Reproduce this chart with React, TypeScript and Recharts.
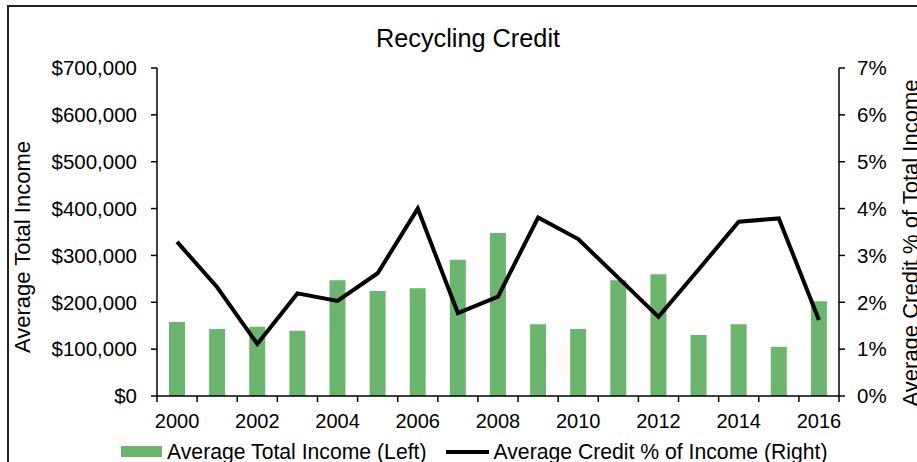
import React from 'react';
import { ComposedChart, Bar, Line, XAxis, YAxis, Legend } from 'recharts';

const years = ['2000', '2001', '2002', '2003', '2004', '2005', '2006', '2007', '2008', '2009', '2010', '2011', '2012', '2013', '2014', '2015', '2016'];
const avgIncome = [158000, 143000, 148000, 139000, 247000, 224000, 230000, 291000, 348000, 153000, 143000, 247000, 260000, 130000, 153000, 105000, 202000];
const creditPct = [3.29, 2.32, 1.11, 2.19, 2.03, 2.62, 4.0, 1.77, 2.12, 3.81, 3.35, 2.52, 1.69, 2.7, 3.72, 3.79, 1.62];
const incomeTicks = [0, 100000, 200000, 300000, 400000, 500000, 600000, 700000];
const pctTicks = [0, 1, 2, 3, 4, 5, 6, 7];

const data = years.map((year, i) => ({ year, income: avgIncome[i], pct: creditPct[i] }));

const FONT = '"Liberation Sans", Arial, sans-serif';
const GREEN = '#6bb56e';

const fmtMoney = (v: number) => '$' + v.toLocaleString('en-US');
const fmtPct = (v: number) => `${v}%`;

// Excel style: tick marks on category boundaries, labels on every other year
const YearTick = (props: any) => {
  const { x, y, payload, index } = props;
  const half = payload?.offset || 20;
  const last = index === years.length - 1;
  return (
    <g>
      <line x1={x - half} y1={y} x2={x - half} y2={y + 6} stroke="#000" strokeWidth={1.5} />
      {last && <line x1={x + half} y1={y} x2={x + half} y2={y + 6} stroke="#000" strokeWidth={1.5} />}
      {index % 2 === 0 && (
        <text x={x} y={y + 32} textAnchor="middle" fill="#000" fontSize={20} fontFamily={FONT}>
          {payload.value}
        </text>
      )}
    </g>
  );
};

const LegendContent = () => (
  <div
    style={{
      display: 'flex',
      alignItems: 'center',
      paddingLeft: 121,
      paddingTop: 9,
      height: 21,
      lineHeight: '24px',
      fontFamily: FONT,
      fontSize: 21.2,
      color: '#000',
      whiteSpace: 'nowrap',
    }}
  >
    <span style={{ display: 'inline-block', width: 41, height: 11, background: GREEN, marginRight: 5 }} />
    <span>Average Total Income (Left)</span>
    <span style={{ display: 'inline-block', width: 43, height: 4, background: '#000', marginLeft: 19, marginRight: 5 }} />
    <span>Average Credit % of Income (Right)</span>
  </div>
);

const labelStyle: React.CSSProperties = {
  position: 'absolute',
  transform: 'translate(-50%, -50%) rotate(-90deg)',
  fontFamily: FONT,
  fontSize: 22,
  lineHeight: 1,
  whiteSpace: 'nowrap',
  color: '#000',
};

export default function App() {
  return (
    <div style={{ position: 'absolute', left: 0, top: 0, width: 917, height: 462, overflow: 'hidden', background: '#fff' }}>
      <div style={{ position: 'absolute', left: 7, top: 5, width: 1000, height: 1000, border: '2px solid #222' }} />
      <div
        style={{
          position: 'absolute',
          left: 468,
          top: 26,
          transform: 'translateX(-50%)',
          fontFamily: FONT,
          fontSize: 25.3,
          lineHeight: 1,
          whiteSpace: 'nowrap',
          color: '#000',
        }}
      >
        Recycling Credit
      </div>
      <div style={{ ...labelStyle, left: 23, top: 247 }}>Average Total Income</div>
      <div style={{ ...labelStyle, left: 911, top: 243 }}>Average Credit % of Total Income</div>
      <ComposedChart width={917} height={462} data={data} margin={{ top: 68, right: 0, bottom: 0, left: 0 }} style={{ position: 'absolute', left: 0, top: 0 }}>
        <XAxis
          dataKey="year"
          interval={0}
          height={36}
          tickLine={false}
          tickSize={0}
          tickMargin={0}
          axisLine={{ stroke: '#000', strokeWidth: 1.5 }}
          tick={<YearTick />}
        />
        <YAxis
          yAxisId="left"
          orientation="left"
          width={157}
          domain={[0, 700000]}
          ticks={incomeTicks}
          tickFormatter={fmtMoney}
          tickSize={6}
          tickMargin={14}
          axisLine={{ stroke: '#000', strokeWidth: 1.5 }}
          tickLine={{ stroke: '#000', strokeWidth: 1.5 }}
          tick={{ fill: '#000', fontSize: 20.5, fontFamily: FONT }}
        />
        <YAxis
          yAxisId="right"
          orientation="right"
          width={78}
          domain={[0, 7]}
          ticks={pctTicks}
          tickFormatter={fmtPct}
          tickSize={6}
          tickMargin={12}
          axisLine={{ stroke: '#000', strokeWidth: 1.5 }}
          tickLine={{ stroke: '#000', strokeWidth: 1.5 }}
          tick={{ fill: '#000', fontSize: 20.5, fontFamily: FONT, textAnchor: 'start' }}
        />
        <Legend verticalAlign="bottom" align="left" height={30} wrapperStyle={{ width: 917, left: 0 }} content={<LegendContent />} />
        <Bar yAxisId="left" dataKey="income" name="Average Total Income (Left)" fill={GREEN} barSize={16} isAnimationActive={false} />
        <Line
          yAxisId="right"
          dataKey="pct"
          name="Average Credit % of Income (Right)"
          type="linear"
          stroke="#000"
          strokeWidth={4}
          dot={false}
          activeDot={false}
          isAnimationActive={false}
        />
      </ComposedChart>
    </div>
  );
}
